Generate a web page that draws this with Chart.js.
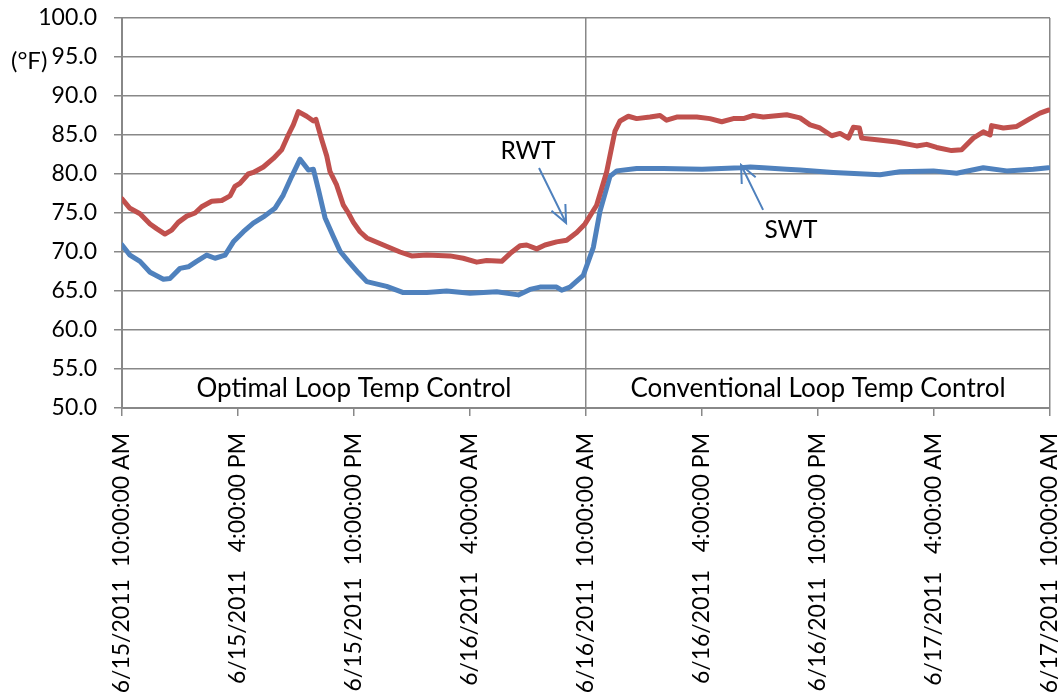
<!DOCTYPE html>
<html>
<head>
<meta charset="utf-8">
<script src="https://cdn.jsdelivr.net/npm/chart.js@4"></script>
<style>
html,body{margin:0;padding:0;background:#fff;}
#wrap{width:1063px;height:700px;}
</style>
</head>
<body>
<div id="wrap"><canvas id="c" width="1063" height="700"></canvas></div>
<script>
// ---- data (x in hours after 6/15/2011 10:00 AM) ----
const xTickLabels = [
  "6/15/2011  10:00:00 AM",
  "6/15/2011   4:00:00 PM",
  "6/15/2011  10:00:00 PM",
  "6/16/2011   4:00:00 AM",
  "6/16/2011  10:00:00 AM",
  "6/16/2011   4:00:00 PM",
  "6/16/2011  10:00:00 PM",
  "6/17/2011   4:00:00 AM",
  "6/17/2011  10:00:00 AM"
];
const rwtHours = [0.0,0.41,0.93,1.45,1.79,2.22,2.57,2.91,3.35,3.78,4.12,4.64,5.16,5.59,5.84,6.10,6.53,6.79,7.31,7.83,8.26,8.60,8.86,9.12,9.55,9.90,10.03,10.33,10.59,10.76,11.10,11.45,11.71,11.97,12.31,12.66,13.52,14.38,14.98,15.76,16.97,17.65,18.35,18.86,19.64,20.07,20.59,20.93,21.45,21.88,22.48,23.00,23.52,23.95,24.55,25.07,25.50,25.76,26.19,26.62,27.31,27.83,28.17,28.69,29.73,30.41,31.02,31.62,32.14,32.65,33.17,34.38,35.07,35.59,36.10,36.71,37.14,37.57,37.83,38.14,38.26,39.04,40.07,41.10,41.62,42.14,42.91,43.43,44.03,44.55,44.90,44.98,45.59,46.28,46.97,47.48,47.91];
const rwtValues = [76.8,75.6,74.9,73.6,73.0,72.3,72.8,73.8,74.6,75.0,75.8,76.5,76.6,77.2,78.4,78.8,80.0,80.2,80.9,82.0,83.1,85.0,86.3,88.0,87.4,86.8,87.0,84.4,82.3,80.3,78.6,76.0,75.0,73.8,72.6,71.8,70.9,70.0,69.5,69.6,69.5,69.2,68.7,68.9,68.8,69.8,70.8,70.9,70.4,70.9,71.3,71.5,72.5,73.6,76.0,80.3,85.5,86.8,87.4,87.1,87.3,87.5,86.9,87.3,87.3,87.1,86.7,87.1,87.1,87.5,87.3,87.6,87.2,86.3,85.9,84.9,85.2,84.6,86.0,85.9,84.6,84.4,84.1,83.6,83.8,83.4,83.0,83.1,84.6,85.4,85.0,86.2,85.9,86.1,87.1,87.8,88.2];
const swtHours = [0.0,0.41,0.93,1.45,2.14,2.48,3.00,3.43,3.86,4.38,4.81,5.33,5.76,6.28,6.79,7.31,7.91,8.34,8.78,9.21,9.64,9.90,10.16,10.50,10.93,11.28,11.71,12.24,12.66,13.69,14.55,15.76,16.79,18.00,19.38,20.50,21.10,21.62,22.48,22.74,23.17,23.86,24.38,24.72,25.24,25.59,26.62,28.0,30.0,32.0,32.5,33.17,34.38,35.07,36.79,39.21,40.24,41.97,43.17,44.55,45.76,47.14,47.91];
const swtValues = [70.9,69.6,68.8,67.4,66.5,66.6,67.9,68.1,68.8,69.6,69.2,69.6,71.3,72.6,73.7,74.5,75.6,77.3,79.7,81.9,80.5,80.6,78.0,74.4,72.0,70.1,68.8,67.3,66.2,65.6,64.8,64.8,65.0,64.7,64.9,64.5,65.2,65.5,65.5,65.1,65.5,67.0,70.6,75.2,79.7,80.4,80.7,80.7,80.6,80.8,80.9,80.8,80.6,80.5,80.2,79.9,80.3,80.4,80.1,80.8,80.4,80.6,80.8];
const dividerHours = [24, 48];
const yTicks = {min: 50, max: 100, step: 5};

// annotations in data units [hours, value]
const sectionLabels = [
  {text: "Optimal Loop Temp Control", x: 12, y: 52.55},
  {text: "Conventional Loop Temp Control", x: 36, y: 52.55}
];
const callouts = [
  {text: "RWT", tx: 21.0, ty: 82.95, from: [21.57, 80.77], to: [22.97, 73.72]},
  {text: "SWT", tx: 34.6, ty: 72.8, from: [33.16, 75.4], to: [32.02, 81.15]}
];
const unitLabel = "(°F)";

const FONT = "Lato";
const RED = "#c0504d", BLUE = "#4f81bd", GRID = "#888888";

const toXY = (xs, ys) => xs.map((x, i) => ({x: x, y: ys[i]}));
const noPad = s => { s.paddingLeft = 0; s.paddingRight = 0; s.paddingTop = 0; s.paddingBottom = 0; };

const annotPlugin = {
  id: "annot",
  afterDatasetsDraw(chart) {
    const {ctx, scales: {x, y}} = chart;
    ctx.save();
    ctx.fillStyle = "#000";
    ctx.font = "26px " + FONT;
    ctx.textAlign = "center";
    ctx.textBaseline = "middle";
    sectionLabels.forEach(s => ctx.fillText(s.text, x.getPixelForValue(s.x), y.getPixelForValue(s.y)));
    ctx.font = "24.5px " + FONT;
    callouts.forEach(c => {
      ctx.fillStyle = "#000";
      ctx.fillText(c.text, x.getPixelForValue(c.tx), y.getPixelForValue(c.ty));
      const x1 = x.getPixelForValue(c.from[0]), y1 = y.getPixelForValue(c.from[1]);
      const x2 = x.getPixelForValue(c.to[0]), y2 = y.getPixelForValue(c.to[1]);
      ctx.strokeStyle = BLUE;
      ctx.lineWidth = 2;
      ctx.beginPath();
      ctx.moveTo(x1, y1); ctx.lineTo(x2, y2);
      const ang = Math.atan2(y2 - y1, x2 - x1), L = 19, w = 0.42;
      ctx.moveTo(x2 - L * Math.cos(ang - w), y2 - L * Math.sin(ang - w));
      ctx.lineTo(x2, y2);
      ctx.lineTo(x2 - L * Math.cos(ang + w), y2 - L * Math.sin(ang + w));
      ctx.stroke();
    });
    ctx.textAlign = "left";
    ctx.font = "24px " + FONT;
    ctx.fillStyle = "#000";
    ctx.fillText(unitLabel, 11, y.getPixelForValue(95) + 4);
    ctx.restore();
  }
};

new Chart(document.getElementById("c"), {
  type: "line",
  data: {
    datasets: [
      {label: "RWT", data: toXY(rwtHours, rwtValues), borderColor: RED, borderWidth: 5, pointRadius: 0, tension: 0, fill: false, borderJoinStyle: "round", borderCapStyle: "round"},
      {label: "SWT", data: toXY(swtHours, swtValues), borderColor: BLUE, borderWidth: 5, pointRadius: 0, tension: 0, fill: false, borderJoinStyle: "round", borderCapStyle: "round"}
    ]
  },
  options: {
    responsive: false,
    animation: false,
    layout: {padding: {top: 18, right: 13, left: 0, bottom: 0}},
    plugins: {legend: {display: false}, tooltip: {enabled: false}},
    scales: {
      x: {
        type: "linear", min: 0, max: 48,
        afterFit: s => { s.height = 292; noPad(s); },
        afterBuildTicks: s => { s.ticks = xTickLabels.map((_, i) => ({value: i * 6})); },
        ticks: {
          autoSkip: false, minRotation: 90, maxRotation: 90, padding: 17,
          color: "#000", font: {family: FONT, size: 23},
          callback: v => xTickLabels[Math.round(v / 6)]
        },
        grid: {
          color: ctx => (ctx.tick && dividerHours.includes(ctx.tick.value)) ? GRID : "rgba(0,0,0,0)",
          tickColor: GRID, tickLength: 8, lineWidth: 1.5
        },
        border: {color: GRID, width: 2}
      },
      y: {
        min: yTicks.min, max: yTicks.max,
        afterFit: s => { s.width = 122; noPad(s); },
        ticks: {
          stepSize: yTicks.step, padding: 17, color: "#000",
          font: {family: FONT, size: 23},
          callback: v => v.toFixed(1)
        },
        grid: {color: GRID, tickLength: 8, lineWidth: 1.5},
        border: {color: GRID, width: 2}
      }
    }
  },
  plugins: [annotPlugin]
});
</script>
</body>
</html>
